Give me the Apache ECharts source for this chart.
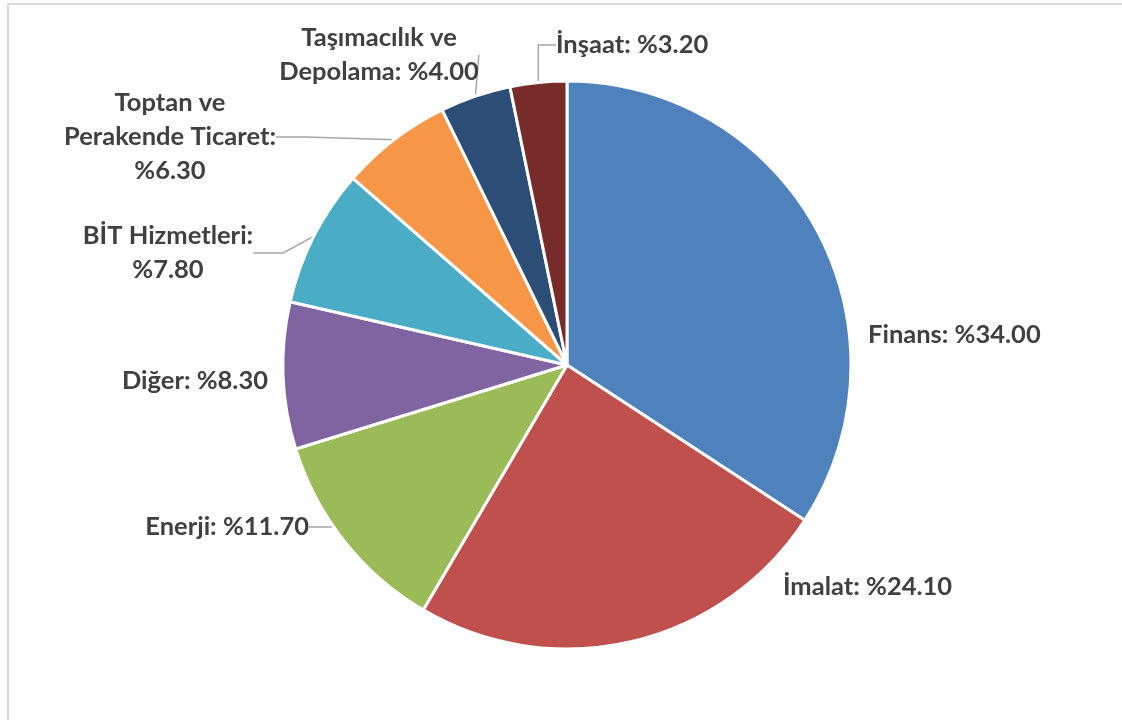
<!DOCTYPE html>
<html>
<head>
<meta charset="utf-8">
<script src="https://cdn.jsdelivr.net/npm/echarts@6/dist/echarts.min.js"></script>
<style>
  html, body { margin: 0; padding: 0; background: #ffffff; }
  #chart { width: 1122px; height: 720px; }
</style>
</head>
<body>
<div id="chart"></div>
<script>
// Sector shares (percent), clockwise from 12 o'clock
const categories = ['Finans', 'İmalat', 'Enerji', 'Diğer', 'BİT Hizmetleri', 'Toptan ve\nPerakende Ticaret', 'Taşımacılık ve\nDepolama', 'İnşaat'];
const shares = [34.0, 24.1, 11.7, 8.3, 7.8, 6.3, 4.0, 3.2];
const colors = ['#4F81BD', '#C0504D', '#9BBB59', '#8064A2', '#4BACC6', '#F79646', '#2C4D75', '#772C2A'];
// separator between name and value: same line or a new line
const valueBreak = [' ', ' ', ' ', ' ', '\n', '\n', ' ', ' '];
// leader line shown only for labels set away from their slice
const showLeader = [false, false, true, false, true, true, true, true];

// label anchor per slice: [x, y, align]
const labelSpots = [
  [868, 335, 'left'],
  [783, 587, 'left'],
  [309, 527, 'right'],
  [268, 381, 'right'],
  [168, 253, 'center'],
  [170, 137, 'center'],
  [379, 55, 'center'],
  [556, 45, 'left']
];

const chart = echarts.init(document.getElementById('chart'), null, { renderer: 'canvas' });

chart.setOption({
  backgroundColor: '#ffffff',
  animation: false,
  graphic: [{
    type: 'rect',
    shape: { x: 8, y: 4, width: 1140, height: 740 },
    style: { fill: null, stroke: '#d9d9d9', lineWidth: 2 },
    silent: true
  }],
  series: [{
    type: 'pie',
    center: [567, 365],
    radius: 284,
    startAngle: 90,
    clockwise: true,
    avoidLabelOverlap: false,
    itemStyle: { borderColor: '#ffffff', borderWidth: 3 },
    label: {
      show: true,
      position: 'outside',
      fontFamily: 'Lato',
      fontWeight: 'bold',
      fontSize: 25.5,
      lineHeight: 34,
      color: '#404040',
      formatter: function (p) {
        return p.name + ':' + valueBreak[p.dataIndex] + '%' + p.value.toFixed(2);
      }
    },
    labelLine: {
      show: true,
      lineStyle: { color: '#a6a6a6', width: 1.5 }
    },
    labelLayout: function (params) {
      const s = labelSpots[params.dataIndex];
      return { x: s[0], y: s[1], align: s[2], verticalAlign: 'middle' };
    },
    data: categories.map(function (name, i) {
      return {
        name: name,
        value: shares[i],
        itemStyle: { color: colors[i] },
        labelLine: { show: showLeader[i] }
      };
    })
  }]
});
</script>
</body>
</html>
